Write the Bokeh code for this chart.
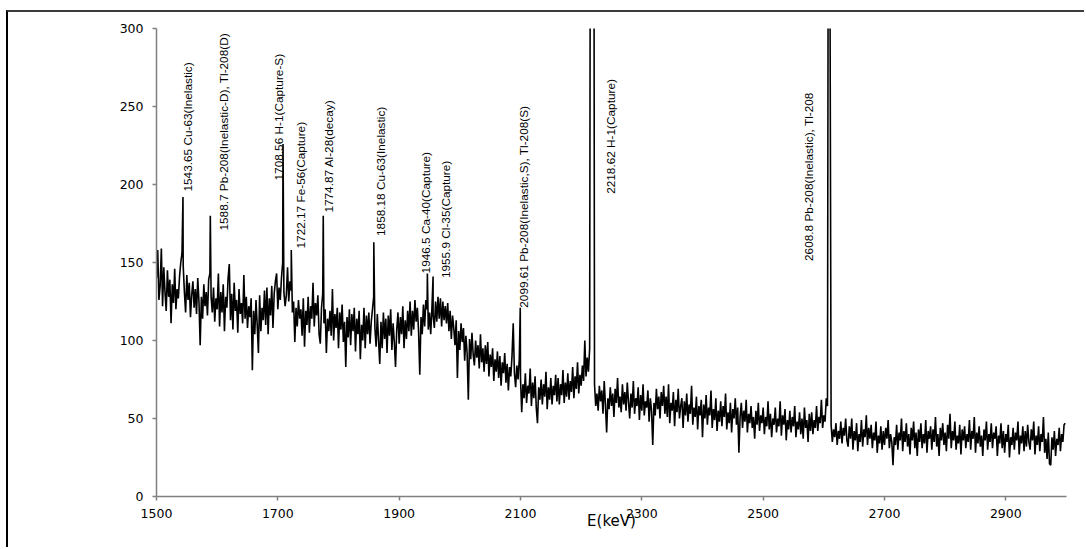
import numpy as np
from bokeh.plotting import figure
from bokeh.models import Range1d, FixedTicker
from bokeh.core.properties import value
from bokeh.embed import file_html
from bokeh.resources import INLINE

# Gamma-ray spectrum: counts per 2 keV channel starting at 1500 keV
START_KEV = 1500
STEP_KEV = 2
counts = [
    140, 158, 126, 135, 159, 122, 147, 131, 119, 145, 128, 139, 111, 136, 124, 146, 120, 133, 127, 141, 150, 156, 148, 131, 118, 142, 126, 137, 115, 129,
    138, 121, 133, 117, 140, 125, 97, 128, 114, 136, 122, 131, 116, 139, 143, 128, 118, 134, 112, 127, 120, 143, 109, 131, 118, 136, 106, 128, 121, 140,
    149, 113, 130, 107, 137, 119, 126, 105, 133, 117, 124, 111, 142, 114, 128, 108, 122, 115, 127, 81, 119, 104, 126, 110, 92, 129, 106, 121, 113, 132,
    110, 134, 104, 127, 116, 135, 108, 130, 138, 143, 120, 134, 126, 140, 150, 131, 122, 129, 147, 125, 138, 132, 118, 125, 99, 121, 109, 126, 114, 120,
    103, 127, 96, 119, 110, 128, 105, 122, 114, 137, 109, 124, 116, 129, 104, 98, 121, 130, 111, 120, 92, 114, 106, 119, 103, 133, 100, 117, 108, 121,
    95, 118, 107, 123, 99, 112, 83, 115, 102, 120, 97, 117, 106, 121, 93, 114, 104, 119, 88, 110, 100, 121, 95, 116, 104, 118, 98, 112, 120, 128,
    108, 96, 117, 100, 85, 112, 95, 118, 101, 114, 92, 116, 103, 120, 94, 111, 99, 83, 107, 118, 98, 115, 104, 122, 95, 113, 101, 119, 106, 125,
    103, 119, 107, 126, 112, 121, 106, 78, 115, 104, 123, 109, 126, 120, 107, 118, 104, 121, 116, 108, 125, 112, 128, 114, 127, 109, 125, 113, 122, 111,
    124, 106, 119, 101, 116, 108, 97, 113, 76, 106, 94, 111, 99, 108, 87, 103, 92, 62, 101, 88, 105, 91, 84, 100, 89, 97, 82, 104, 86, 95,
    80, 97, 85, 99, 77, 91, 83, 95, 74, 88, 80, 93, 76, 90, 71, 86, 79, 92, 73, 85, 68, 83, 77, 90, 111, 79, 70, 84, 75, 88,
    76, 54, 72, 63, 79, 60, 71, 66, 82, 58, 73, 63, 77, 57, 47, 70, 62, 75, 59, 72, 64, 80, 56, 70, 62, 76, 59, 71, 65, 78,
    61, 76, 59, 72, 65, 81, 60, 73, 64, 79, 62, 74, 67, 83, 63, 77, 69, 86, 66, 78, 71, 84, 74, 100, 77, 89, 80, 95, 650, 880,
    720, 72, 58, 66, 55, 71, 61, 68, 53, 74, 59, 41, 63, 56, 70, 58, 66, 51, 69, 60, 76, 57, 64, 54, 72, 59, 67, 55, 73, 61,
    50, 66, 57, 74, 53, 63, 58, 70, 49, 65, 55, 72, 52, 61, 57, 68, 48, 63, 55, 33, 60, 52, 69, 56, 64, 50, 67, 58, 71, 53,
    64, 51, 72, 47, 60, 55, 67, 45, 62, 54, 69, 50, 58, 63, 44, 61, 52, 66, 48, 59, 53, 71, 46, 57, 51, 64, 43, 58, 52, 62,
    38, 59, 50, 65, 46, 57, 52, 68, 44, 56, 49, 63, 42, 55, 48, 61, 45, 58, 51, 66, 43, 54, 47, 60, 41, 56, 50, 63, 46, 57,
    28, 51, 60, 44, 55, 48, 62, 41, 53, 47, 58, 44, 51, 37, 55, 46, 60, 42, 52, 47, 57, 40, 51, 45, 61, 43, 53, 38, 50, 46,
    57, 41, 50, 45, 61, 39, 52, 46, 56, 36, 49, 43, 55, 41, 51, 45, 58, 38, 48, 43, 54, 40, 50, 37, 57, 44, 49, 35, 53, 42,
    54, 40, 49, 44, 58, 42, 51, 47, 62, 44, 52, 48, 63, 58, 560, 350, 46, 35, 43, 38, 47, 33, 42, 37, 48, 34, 44, 39, 50, 36,
    32, 45, 37, 50, 30, 42, 36, 47, 29, 40, 35, 49, 32, 43, 38, 52, 33, 44, 37, 46, 31, 41, 36, 48, 28, 39, 34, 45, 30, 42,
    33, 44, 37, 49, 31, 40, 35, 20, 38, 33, 46, 30, 41, 36, 50, 29, 42, 35, 47, 32, 40, 27, 44, 36, 48, 31, 41, 26, 43, 35,
    47, 31, 40, 34, 49, 28, 42, 37, 45, 30, 43, 35, 51, 32, 40, 26, 44, 36, 47, 33, 41, 29, 46, 37, 53, 31, 42, 36, 48, 30,
    39, 34, 46, 27, 43, 36, 45, 31, 40, 35, 49, 30, 42, 37, 51, 28, 41, 34, 45, 32, 39, 26, 43, 36, 48, 30, 40, 35, 47, 31,
    41, 37, 45, 26, 39, 34, 47, 31, 42, 28, 40, 35, 46, 25, 38, 33, 44, 30, 41, 36, 48, 27, 39, 34, 45, 29, 42, 32, 46, 35,
    30, 43, 36, 48, 27, 39, 33, 45, 29, 40, 35, 51, 28, 37, 24, 41, 21, 20, 38, 30, 42, 26, 37, 33, 44, 29, 40, 35, 46, 47,
]

# Identified photopeaks: apex energy (keV) and counts
peak_energy = [1543.65, 1588.7, 1708.56, 1722.17, 1774.87, 1858.18,
               1946.5, 1955.9, 2099.61, 2218.62, 2608.8]
peak_counts = [192, 180, 226, 158, 180, 163, 143, 141, 121, 900, 620]
peak_names = [
    "1543.65 Cu-63(Inelastic)",
    "1588.7 Pb-208(Inelastic-D), Tl-208(D)",
    "1708.56 H-1(Capture-S)",
    "1722.17 Fe-56(Capture)",
    "1774.87 Al-28(decay)",
    "1858.18 Cu-63(Inelastic)",
    "1946.5 Ca-40(Capture)",
    "1955.9 Cl-35(Capture)",
    "2099.61 Pb-208(Inelastic,S), Tl-208(S)",
    "2218.62 H-1(Capture)",
    "2608.8 Pb-208(Inelastic), Tl-208",
]

# where each vertical annotation starts (keV, counts)
label_x = [1551.1, 1610.5, 1701.2, 1737.5, 1783.6, 1869.4,
           1943.6, 1976.6, 2105.2, 2248.7, 2575.2]
label_y = [195.5, 170.5, 202.6, 159.0, 182.0, 167.0,
           143.0, 140.0, 121.0, 194.0, 151.0]

x_ticks = [1500, 1700, 1900, 2100, 2300, 2500, 2700, 2900]
y_ticks = [0, 50, 100, 150, 200, 250, 300]

energy = START_KEV + STEP_KEV * np.arange(len(counts))
xs = np.concatenate([energy, np.array(peak_energy)])
ys = np.concatenate([np.array(counts, dtype=float), np.array(peak_counts, dtype=float)])
order = np.argsort(xs, kind="stable")
xs, ys = xs[order], ys[order]

p = figure(
    width=1078, height=537,
    x_range=Range1d(1500, 3000), y_range=Range1d(0, 300),
    output_backend="svg", toolbar_location=None,
    min_border_left=148, min_border_right=20,
    min_border_top=16, min_border_bottom=53,
    background_fill_color="white", border_fill_color="white",
)
p.outline_line_color = None
p.xgrid.visible = False
p.ygrid.visible = False
p.styles = {
    "margin-left": "6px",
    "margin-top": "10px",
    "border-left": "2px solid #000000",
    "border-top": "2px solid #3c3c3c",
}

for ax, ticks, standoff in ((p.xaxis[0], x_ticks, 8), (p.yaxis[0], y_ticks, 9)):
    ax.ticker = FixedTicker(ticks=ticks)
    ax.axis_line_color = "#808080"
    ax.axis_line_width = 1.5
    ax.major_tick_line_color = "#808080"
    ax.major_tick_line_width = 1.5
    ax.major_tick_out = 4
    ax.major_tick_in = 0
    ax.minor_tick_line_color = None
    ax.major_label_standoff = standoff
    ax.major_label_text_font = "DejaVu Sans"
    ax.major_label_text_font_size = "12.5px"
    ax.major_label_text_color = "black"

p.xaxis.axis_label = "E(keV)"
p.xaxis.axis_label_text_font = "DejaVu Sans"
p.xaxis.axis_label_text_font_size = "15px"
p.xaxis.axis_label_text_font_style = "normal"
p.xaxis.axis_label_text_color = "black"
p.xaxis.axis_label_standoff = -9

p.line(xs, ys, line_color="black", line_width=1.6)

p.text(
    x=label_x, y=label_y, text=peak_names, angle=np.pi / 2,
    text_align="left", text_baseline="middle",
    text_font=value("Liberation Sans"), text_font_size="11.8px",
    text_color="black",
)

open("out.html", "w").write(file_html(p, INLINE))
